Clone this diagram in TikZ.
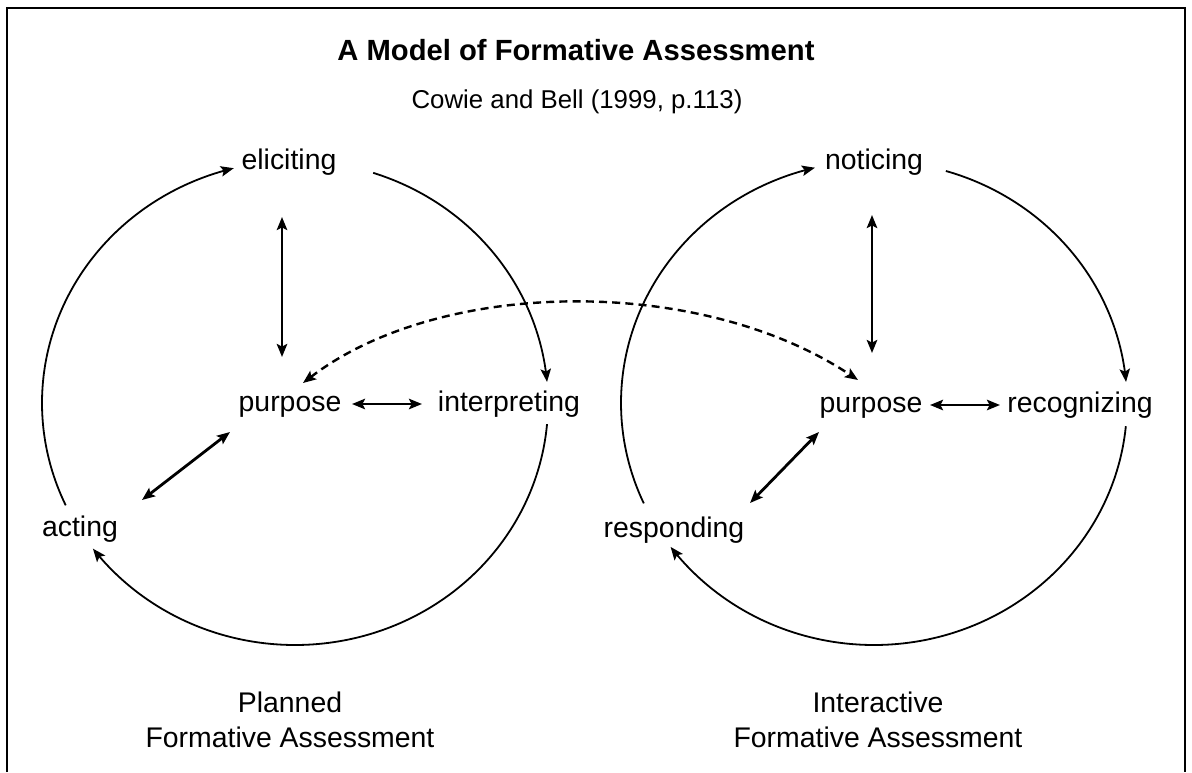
\documentclass[tikz,border=0pt]{standalone}
\usepackage{fontspec}
\setmainfont{Liberation Sans}
\usetikzlibrary{arrows.meta,calc}
\begin{document}
\begin{tikzpicture}[x=0.5pt,y=-0.5pt,
  lbl/.style={font=\fontsize{14.2}{17}\selectfont, inner sep=0pt, anchor=base},
  ttl/.style={font=\fontsize{14.6}{17}\selectfont\bfseries, inner sep=0pt, anchor=base},
  sub/.style={font=\fontsize{12.9}{15}\selectfont, inner sep=0pt, anchor=base},
  tip/.tip={Stealth[length=6.5pt,width=5.2pt,inset=1.3pt]},
  ring/.style={line width=0.9pt, tip-},
  dbl/.style={line width=1.4pt, tip-tip},
  dsh/.style={line width=1.2pt, dash pattern=on 4pt off 2.6pt, tip-tip}]
\useasboundingbox (0,0) rectangle (1192,772);
\fill[white] (0,0) rectangle (1192,772);
% frame
\draw[line width=0.9pt] (7,772) -- (7,8) -- (1185,8) -- (1185,772);
% titles
\node[ttl] (title) at (576,60) {A Model of Formative Assessment};
\node[sub] (cite) at (577,108) {Cowie and Bell (1999, p.113)};
% left cycle labels
\node[lbl] (eliL) at (289,169) {eliciting};
\node[lbl] (purL) at (290,411) {purpose};
\node[lbl] (intL) at (509,411) {interpreting};
\node[lbl] (actL) at (80,536) {acting};
% right cycle labels
\node[lbl] (notR) at (874,169) {noticing};
\node[lbl] (purR) at (871,412) {purpose};
\node[lbl] (recR) at (1080,412) {recognizing};
\node[lbl] (resR) at (674,537) {responding};
% bottom captions
\node[lbl] (plan1) at (290,712) {Planned};
\node[lbl] (plan2) at (290,747) {Formative Assessment};
\node[lbl] (int1) at (878,712) {Interactive};
\node[lbl] (int2) at (878,747) {Formative Assessment};
% left ellipse arcs (centre 295,403; rx 253; ry 242)
\draw[ring] plot[domain=104:205,samples=80,smooth] ({295+253*cos(\x)},{403-242*sin(\x)});
\draw[ring] plot[domain=5:72,samples=60,smooth] ({295+253*cos(\x)},{403-242*sin(\x)});
\draw[ring] plot[domain=-143:-5,samples=100,smooth] ({295+253*cos(\x)},{403-242*sin(\x)});
% right ellipse arcs (centre 874,403)
\draw[ring] plot[domain=103.5:204.5,samples=80,smooth] ({874+253*cos(\x)},{403-242*sin(\x)});
\draw[ring] plot[domain=5:73.5,samples=60,smooth] ({874+253*cos(\x)},{403-242*sin(\x)});
\draw[ring] plot[domain=-143.5:-5.5,samples=100,smooth] ({874+253*cos(\x)},{403-242*sin(\x)});
% arrow end points
\coordinate (vL1) at (282,217); \coordinate (vL2) at (282,357);
\coordinate (hL1) at (352,404); \coordinate (hL2) at (422,404);
\coordinate (dL1) at (142,500); \coordinate (dL2) at (230,432);
\coordinate (vR1) at (872,215); \coordinate (vR2) at (872,353);
\coordinate (hR1) at (930,405); \coordinate (hR2) at (1000,405);
\coordinate (dR1) at (750,503); \coordinate (dR2) at (819,432);
\coordinate (dsL) at (303,383); \coordinate (dsR) at (858,380);
\draw[dbl] (vL1) -- (vL2);
\draw[dbl] (hL1) -- (hL2);
\draw[dbl] (dL1) -- (dL2);
\draw[dbl] (vR1) -- (vR2);
\draw[dbl] (hR1) -- (hR2);
\draw[dbl] (dR1) -- (dR2);
\draw[dsh] (dsL) .. controls (440,278) and (700,275) .. (dsR);
\end{tikzpicture}
\end{document}
